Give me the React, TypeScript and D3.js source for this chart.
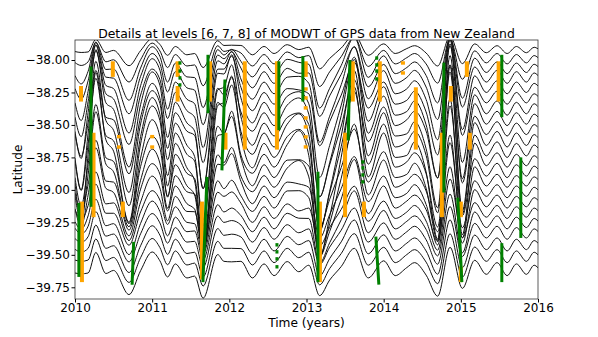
import React, { useEffect, useRef } from "react";
import * as d3 from "d3";

// knots of the detail curves (years) with the common wiggle (0.01 deg)
// and two slow-slip "event" shapes (0.1 deg)
const knotYears = [
  2010.0, 2010.08, 2010.17, 2010.27, 2010.4, 2010.5, 2010.7, 2010.85,
  2011.0, 2011.1, 2011.2, 2011.3, 2011.45, 2011.55, 2011.66, 2011.85, 2011.93,
  2012.03, 2012.15, 2012.3, 2012.45, 2012.58, 2012.75, 2012.9,
  2013.03, 2013.17, 2013.3, 2013.45, 2013.62, 2013.8,
  2014.0, 2014.15, 2014.3, 2014.4, 2014.55, 2014.7, 2014.86,
  2015.02, 2015.18, 2015.33, 2015.47, 2015.6, 2015.72, 2015.85, 2015.95, 2016.0,
];
const wiggle = [
  0, 4, -3, 6, -5, -1, -14, -2,
  10, 4, -2, 4, -6, -3, -14, 8, 2,
  -2, 6, -6, 4, -5, 5, -6,
  3, -12, -3, 2, 10, -6,
  4, -5, 2, 5, -3, -14, 10,
  -8, 6, -4, 5, -5, 4, -4, 3, 1,
];
const eventA = [
  -1.5, -3, 0, 2.6, 0.8, 0, -1.6, 0.4,
  0.8, 0.8, -0.8, 0, -0.4, -1.2, -3, 1.2, 2,
  3, 0.4, -0.4, 0, 0, 0, 0.4,
  0, -0.8, -0.4, 0, 0.4, 0,
  0.4, 0, -0.4, 0, -0.8, -2.6, 2.6,
  -0.8, 0, 0, 0, 0, 0, 0, 0, 0,
];
const eventB = [
  0, -0.8, 0, 0.8, 0, 0, -1.2, 0,
  0.8, 0.4, -1.2, 0, 0, 0, -1.2, 0.4, 0,
  0.8, -0.4, 0, 0, 0, 0.4, 1.6,
  0, -3.4, -2.3, 0, 2.6, -0.4,
  0.8, 0, 0, 0, 0, -0.8, 0.8,
  -2.6, 0.4, 0, 0, 0, 0, 0, 0, 0,
];

// stations: latitude, wiggle gain, gains of the two event shapes
const stationLat = [
  -37.92, -37.99, -38.06, -38.13, -38.21, -38.29, -38.37, -38.45, -38.53, -38.61, -38.69,
  -38.77, -38.85, -38.93, -39.01, -39.09, -39.17, -39.25, -39.33, -39.42, -39.51, -39.61,
];
const wiggleGain = [
  0.6, 0.8, 0.9, 1.0, 1.0, 1.0, 1.1, 1.1, 1.1, 1.2, 1.2,
  1.1, 1.1, 1.0, 1.0, 1.0, 1.0, 1.0, 1.0, 1.0, 1.0, 1.0,
];
const gainA = [
  0.1, 0.2, 0.4, 0.6, 0.8, 1.0, 1.2, 0.8, 1.5, 1.1, 1.7,
  0.9, 1.3, 0.6, 0.9, 0.4, 0.5, 0.3, 0.3, 0.25, 0.2, 0.2,
];
const gainB = [
  0.2, 0.3, 0.5, 0.4, 0.7, 0.5, 0.9, 1.2, 0.8, 1.4, 1.0,
  1.6, 0.6, 1.2, 0.5, 0.8, 0.3, 0.5, 0.3, 0.3, 0.25, 0.2,
];

// detected events: [year at top, year at bottom, lat top, lat bottom]
const orangeBars = [
  [2010.078, 2010.078, -38.2, -38.32],
  [2010.09, 2010.09, -39.09, -39.71],
  [2010.24, 2010.24, -38.56, -39.21],
  [2010.49, 2010.49, -38.01, -38.13],
  [2010.62, 2010.62, -39.09, -39.21],
  [2011.33, 2011.33, -38.01, -38.13],
  [2011.33, 2011.33, -38.2, -38.32],
  [2011.645, 2011.645, -39.09, -39.69],
  [2011.75, 2011.75, -38.01, -38.32],
  [2011.95, 2011.95, -38.56, -38.69],
  [2012.2, 2012.2, -38.01, -38.69],
  [2012.617, 2012.617, -38.01, -38.69],
  [2012.99, 2012.99, -38.01, -38.13],
  [2013.174, 2013.174, -39.09, -39.71],
  [2013.5, 2013.5, -38.56, -39.21],
  [2013.6, 2013.6, -38.01, -38.32],
  [2013.744, 2013.744, -39.09, -39.21],
  [2013.95, 2013.95, -38.01, -38.32],
  [2014.417, 2014.417, -38.21, -38.69],
  [2014.754, 2014.754, -38.56, -39.21],
  [2014.87, 2014.87, -38.2, -38.32],
  [2015.0, 2015.0, -39.09, -39.21],
  [2015.0, 2015.0, -39.59, -39.71],
  [2015.078, 2015.078, -38.01, -38.13],
  [2015.117, 2015.117, -38.56, -38.69],
  [2015.49, 2015.49, -38.01, -38.32],
];
const greenBars = [
  [2010.05, 2010.05, -39.1, -39.67],
  [2010.207, 2010.207, -38.05, -39.13],
  [2010.76, 2010.74, -39.4, -39.73],
  [2011.71, 2011.658, -38.9, -39.71],
  [2011.723, 2011.723, -37.96, -38.41],
  [2011.943, 2011.904, -38.15, -38.85],
  [2012.642, 2012.642, -38.01, -38.54],
  [2012.953, 2012.953, -37.97, -38.32],
  [2013.148, 2013.148, -38.86, -39.71],
  [2013.562, 2013.54, -38.0, -38.62],
  [2013.899, 2013.938, -39.36, -39.73],
  [2014.78, 2014.78, -38.02, -39.02],
  [2014.96, 2015.013, -39.06, -39.71],
  [2015.531, 2015.531, -37.96, -38.44],
  [2015.777, 2015.777, -38.75, -39.37],
  [2015.531, 2015.531, -39.41, -39.71],
];
// single-station detections: [year, lat]
const orangeDots = [
  [2010.57, -38.59], [2010.57, -38.67], [2011.0, -38.59], [2011.0, -38.67],
  [2012.99, -38.223], [2012.99, -38.292], [2012.99, -38.369], [2012.99, -38.446],
  [2012.99, -38.515], [2012.99, -38.592], [2012.99, -38.669],
  [2014.25, -38.023], [2014.25, -38.1],
];
const greenDots = [
  [2011.36, -38.023], [2011.36, -38.085], [2011.36, -38.138], [2011.36, -38.192],
  [2012.617, -39.423], [2012.617, -39.477], [2012.617, -39.531], [2012.617, -39.592],
  [2013.73, -38.785], [2013.73, -38.831], [2013.73, -38.885], [2013.73, -38.938],
  [2013.91, -37.985], [2013.91, -38.038], [2013.91, -38.085], [2013.91, -38.146],
];

const xTicks = [2010, 2011, 2012, 2013, 2014, 2015, 2016];
const yTicks = [-39.75, -39.5, -39.25, -39.0, -38.75, -38.5, -38.25, -38.0];

const W = 598;
const H = 337;
const left = 75, right = 538, top = 40, bottom = 299;
const font = "DejaVu Sans";

export default function App() {
  const xAxisRef = useRef<SVGGElement>(null);
  const yAxisRef = useRef<SVGGElement>(null);

  const x = d3.scaleLinear().domain([2010, 2016]).range([left, right]);
  const y = d3.scaleLinear().domain([-39.84, -37.846]).range([bottom, top]);

  useEffect(() => {
    const gx = d3.select(xAxisRef.current);
    gx.call(
      d3.axisBottom(x).tickValues(xTicks).tickFormat(d3.format("d"))
        .tickSize(3.5).tickSizeOuter(0).tickPadding(1)
    );
    gx.select(".domain").remove();
    gx.attr("font-size", 12).attr("font-family", font);
    gx.selectAll("text").attr("fill", "#000");

    const gy = d3.select(yAxisRef.current);
    gy.call(
      d3.axisLeft(y).tickValues(yTicks).tickFormat(d3.format(".2f"))
        .tickSize(3.5).tickSizeOuter(0).tickPadding(1.5)
    );
    gy.select(".domain").remove();
    gy.attr("font-size", 12).attr("font-family", font);
    gy.selectAll("text").attr("fill", "#000");
  }, []);

  const line = d3.line<number[]>()
    .x((d) => x(d[0]))
    .y((d) => y(d[1]))
    .curve(d3.curveMonotoneX);

  const curves = stationLat.map((lat, i) =>
    knotYears.map((t, k) => [
      t,
      lat + (wiggleGain[i] * wiggle[k]) / 100 + (gainA[i] * eventA[k] + gainB[i] * eventB[k]) / 10,
    ])
  );

  return (
    <div style={{ position: "absolute", left: 0, top: 0 }}>
      <svg width={W} height={H} style={{ display: "block", background: "#fff" }}>
        <defs>
          <clipPath id="plot">
            <rect x={left} y={top} width={right - left} height={bottom - top} />
          </clipPath>
        </defs>
        <g clipPath="url(#plot)">
          {curves.map((c, i) => (
            <path key={i} d={line(c) || ""} fill="none" stroke="#111" strokeWidth={1} />
          ))}
          {orangeBars.map((b, i) => (
            <line key={"o" + i} x1={x(b[0])} x2={x(b[1])} y1={y(b[2])} y2={y(b[3])}
              stroke="orange" strokeWidth={4} />
          ))}
          {orangeDots.map((d, i) => (
            <rect key={"od" + i} x={x(d[0]) - 2} y={y(d[1]) - 1.7} width={4} height={3.4} fill="orange" />
          ))}
          {greenBars.map((b, i) => (
            <line key={"g" + i} x1={x(b[0])} x2={x(b[1])} y1={y(b[2])} y2={y(b[3])}
              stroke="green" strokeWidth={3} />
          ))}
          {greenDots.map((d, i) => (
            <rect key={"gd" + i} x={x(d[0]) - 1.5} y={y(d[1]) - 1.7} width={3} height={3.4} fill="green" />
          ))}
        </g>
        <rect x={left} y={top} width={right - left} height={bottom - top}
          fill="none" stroke="#333" strokeWidth={0.8} />
        <g ref={xAxisRef} transform={`translate(0,${bottom})`} />
        <g ref={yAxisRef} transform={`translate(${left},0)`} />
        <text x={(left + right) / 2} y={37.5} textAnchor="middle" fontFamily={font} fontSize={12.4}>
          Details at levels [6, 7, 8] of MODWT of GPS data from New Zealand
        </text>
        <text x={(left + right) / 2} y={327} textAnchor="middle" fontFamily={font} fontSize={12.2}>
          Time (years)
        </text>
        <text transform={`translate(21.5,${(top + bottom) / 2}) rotate(-90)`} textAnchor="middle"
          fontFamily={font} fontSize={12.2}>
          Latitude
        </text>
      </svg>
    </div>
  );
}
